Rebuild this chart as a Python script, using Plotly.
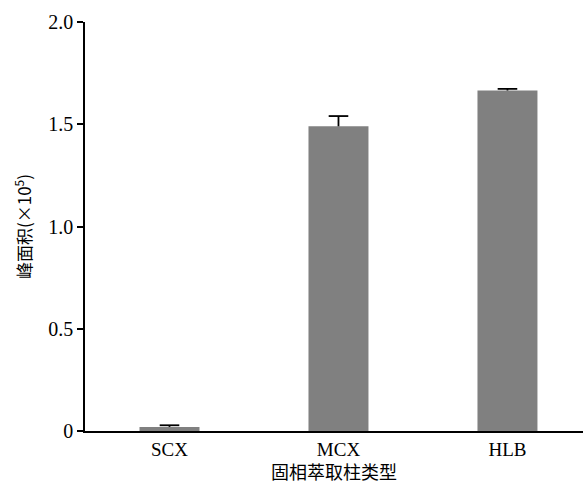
import plotly.graph_objects as go

categories = ["SCX", "MCX", "HLB"]
values = [0.02, 1.49, 1.665]
errors = [0.008, 0.05, 0.008]
y_ticks = [0, 0.5, 1.0, 1.5, 2.0]
y_tick_labels = ["0", "0.5", "1.0", "1.5", "2.0"]

tops = [v + e for v, e in zip(values, errors)]

SERIF = "Liberation Serif, Times New Roman, serif"

fig = go.Figure()
fig.add_trace(go.Bar(
    x=categories, y=values,
    width=0.355,
    marker=dict(color="#808080", line=dict(width=0)),
    error_y=dict(type="data", array=errors, arrayminus=[0, 0, 0],
                 symmetric=False, color="#000000", thickness=1.8, width=0),
))
# error bar caps (upper only)
fig.add_trace(go.Scatter(
    x=categories, y=tops, mode="markers",
    marker=dict(symbol="line-ew", size=14, line=dict(color="#000000", width=1.8)),
    hoverinfo="skip",
))

fig.update_layout(
    width=583, height=484,
    margin=dict(l=85, r=0, t=22, b=53, autoexpand=False),
    paper_bgcolor="white", plot_bgcolor="white",
    showlegend=False,
    font=dict(family=SERIF, size=19, color="#000"),
    xaxis=dict(
        range=[-0.5, 2.447],
        showline=True, linecolor="#000", linewidth=1.5,
        ticks="", showgrid=False, zeroline=False,
        tickfont=dict(family=SERIF, size=19),
        title=dict(text="固相萃取柱类型", standoff=10,
                   font=dict(family="Noto Sans CJK SC", size=18)),
    ),
    yaxis=dict(
        range=[0, 2.0],
        tickvals=y_ticks, ticktext=y_tick_labels,
        showline=True, linecolor="#000", linewidth=1.5,
        ticks="outside", ticklen=6, tickwidth=1.5, tickcolor="#000",
        showgrid=False, zeroline=False,
        tickfont=dict(family=SERIF, size=20),
        title=dict(text="峰面积(×10<sup>5</sup>)", standoff=12,
                   font=dict(family="Noto Sans CJK SC", size=17)),
    ),
)

fig.write_html("out.html")
